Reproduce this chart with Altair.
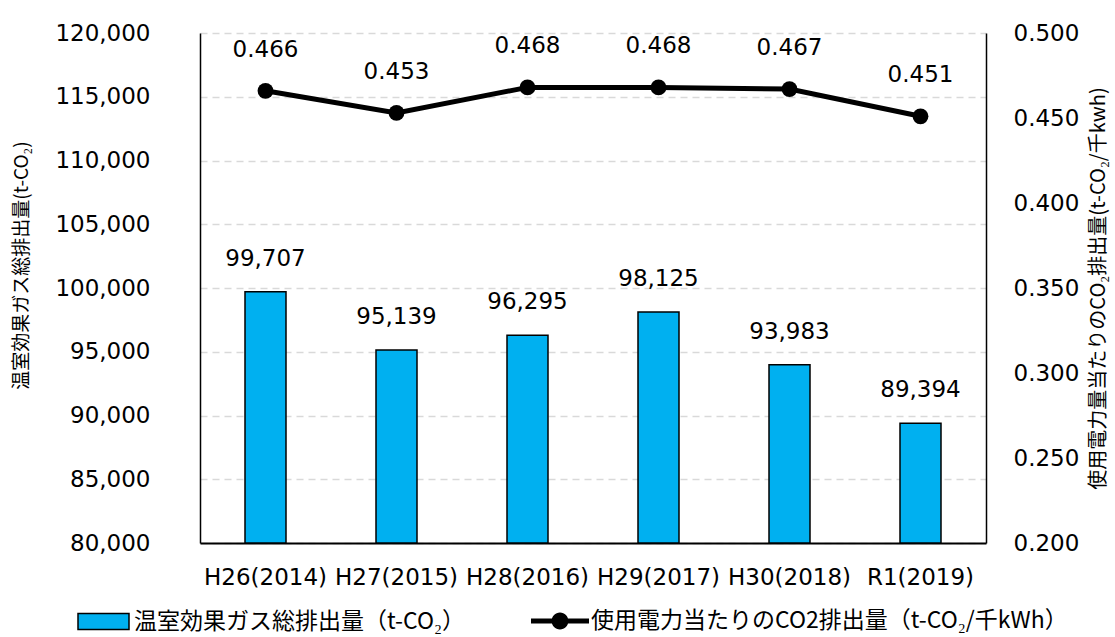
import altair as alt
import pandas as pd

# Fiscal years (Japanese era + western year)
years = ["H26(2014)", "H27(2015)", "H28(2016)", "H29(2017)", "H30(2018)", "R1(2019)"]
# Total greenhouse gas emissions (t-CO2)
emissions = [99707, 95139, 96295, 98125, 93983, 89394]
# CO2 emissions per unit of electricity used (t-CO2 / thousand kWh)
factors = [0.466, 0.453, 0.468, 0.468, 0.467, 0.451]

bar_name = "温室効果ガス総排出量（t-CO₂）"
line_name = "使用電力当たりのCO2排出量（t-CO₂/千kWh）"

df = pd.DataFrame({
    "year": years,
    "emissions": emissions,
    "factor": factors,
    "bar_series": bar_name,
    "line_series": line_name,
})

LATIN = "DejaVu Sans"
CJK = "Noto Sans CJK JP"

x_enc = alt.X(
    "year:N",
    sort=years,
    scale=alt.Scale(paddingInner=0, paddingOuter=0),
    axis=alt.Axis(
        title=None, labelAngle=0, labelFont=LATIN, labelFontSize=23,
        labelColor="black", labelPadding=23, ticks=False,
        domainColor="black", domainWidth=2, labelLimit=0,
    ),
)

left_axis = alt.Axis(
    title="温室効果ガス総排出量(t-CO₂)",
    orient="left",
    values=[80000, 85000, 90000, 95000, 100000, 105000, 110000, 115000, 120000],
    format=",.0f",
    labelFont=LATIN, labelFontSize=23, labelColor="black", labelPadding=50,
    ticks=False, domainColor="black", domainWidth=1.5,
    grid=True, gridColor="#D9D9D9", gridDash=[7, 5], gridWidth=1.5,
    titleFont=CJK, titleFontSize=19, titleFontWeight="normal", titleColor="black",
    titleAngle=270, titleX=-179, titleY=232, titleAlign="center", titleBaseline="middle",
)

right_axis = alt.Axis(
    title="使用電力量当たりのCO₂排出量(t-CO₂/千kwh)",
    orient="right",
    values=[0.2, 0.25, 0.3, 0.35, 0.4, 0.45, 0.5],
    format=".3f",
    labelFont=LATIN, labelFontSize=23, labelColor="black", labelPadding=27,
    ticks=False, domainColor="black", domainWidth=1.5, grid=False,
    titleFont=CJK, titleFontSize=20, titleFontWeight="normal", titleColor="black",
    titleAngle=270, titleX=112, titleY=255, titleAlign="center", titleBaseline="middle",
)

y_left = alt.Y("emissions:Q", scale=alt.Scale(domain=[80000, 120000], zero=False, nice=False), axis=left_axis)
y_right = alt.Y("factor:Q", scale=alt.Scale(domain=[0.2, 0.5], zero=False, nice=False), axis=right_axis)

base = alt.Chart(df)

bars = base.mark_bar(size=41, stroke="black", strokeWidth=1.5).encode(
    x=x_enc,
    y=y_left,
    y2=alt.datum(80000),
    fill=alt.Fill(
        "bar_series:N",
        scale=alt.Scale(domain=[bar_name], range=["#00B0F0"]),
        legend=alt.Legend(
            title=None, orient="none", legendX=-123, legendY=562,
            labelFont=CJK, labelFontSize=23, labelColor="black", labelOffset=4,
            labelLimit=0, padding=0,
            symbolType="M-1,-0.314H1V0.314H-1Z", symbolSize=2601,
            symbolStrokeColor="black", symbolStrokeWidth=1.5,
        ),
    ),
)

bar_labels = base.mark_text(
    font=LATIN, fontSize=23, color="black", baseline="alphabetic", dy=-26
).encode(
    x=x_enc,
    y=y_left,
    text=alt.Text("emissions:Q", format=","),
)

line = base.mark_line(strokeWidth=5, color="black").encode(
    x=x_enc,
    y=y_right,
    stroke=alt.Stroke(
        "line_series:N",
        scale=alt.Scale(domain=[line_name], range=["black"]),
        legend=alt.Legend(
            title=None, orient="none", legendX=331, legendY=559,
            labelFont=CJK, labelFontSize=23, labelColor="black", labelOffset=2,
            labelLimit=0, padding=0,
            symbolType="M-1,-0.086H1V0.086H-1Z M0.29,0A0.29,0.29 0 1,1 -0.29,0A0.29,0.29 0 1,1 0.29,0Z",
            symbolSize=3364, symbolFillColor="black", symbolStrokeWidth=0,
        ),
    ),
)

points = base.mark_point(filled=True, size=250, color="black", opacity=1).encode(
    x=x_enc,
    y=y_right,
)

line_labels = base.mark_text(
    font=LATIN, fontSize=23, color="black", baseline="alphabetic", dy=-34
).encode(
    x=x_enc,
    y=y_right,
    text=alt.Text("factor:Q", format=".3f"),
)

chart = (
    alt.layer(
        alt.layer(bars, bar_labels),
        alt.layer(line, points, line_labels),
    )
    .resolve_scale(y="independent")
    .properties(
        width=786,
        height=510,
        padding={"left": 200, "top": 33, "right": 129, "bottom": 94},
        autosize=alt.AutoSizeParams(type="none"),
        background="white",
    )
    .configure_view(strokeWidth=0)
)

chart.save("out.html", embed_options={"renderer": "svg", "actions": False})
